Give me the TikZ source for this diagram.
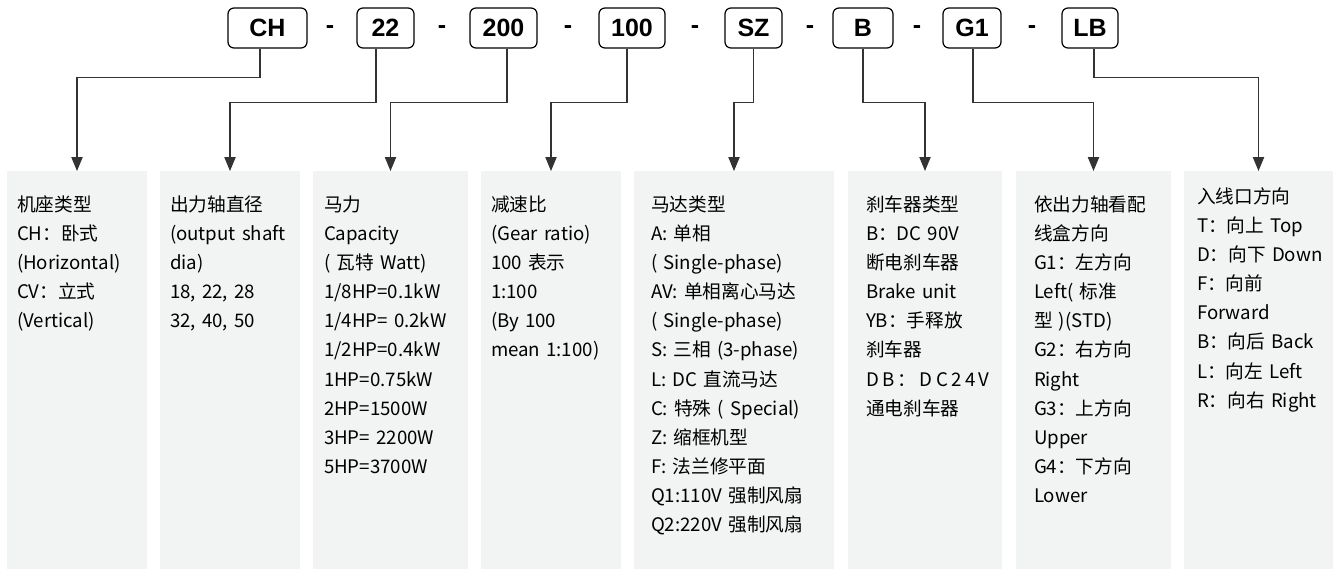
\documentclass[tikz,border=0pt]{standalone}
\usepackage{fontspec}
\setmainfont{Noto Sans CJK SC}
\newfontfamily\codefont{Liberation Sans}
\usetikzlibrary{arrows.meta}
\definecolor{boxgray}{RGB}{242,243,243}
\definecolor{linegray}{RGB}{51,51,51}

\begin{document}
\begin{tikzpicture}[
        x=0.75pt, y=-0.75pt,
        code/.style={draw, rounded corners=4.5pt, line width=0.9pt, minimum height=30pt, inner sep=0pt,
            font=\codefont\bfseries\fontsize{18.75}{20}\selectfont},
        sep/.style={inner sep=0pt, font=\codefont\bfseries\fontsize{18.75}{20}\selectfont},
        desc/.style={fill=boxgray, anchor=north, minimum height=298.5pt, inner sep=0pt},
        info/.style={anchor=base west, inner sep=0pt, text width=140pt, align=left,
            font=\fontsize{14}{21.8}\selectfont},
        link/.style={draw=linegray, line width=0.8pt, -{Triangle[width=8.5pt, length=10.5pt]}}
    ]
        \useasboundingbox (0,0) rectangle (1340,572);

        % code boxes
        \node[code, minimum width=59.25pt] (CH) at (267.5,28) {CH};
        \node[code, minimum width=42.75pt] (DIA) at (385.5,28) {22};
        \node[code, minimum width=50.25pt] (HP) at (503.5,28) {200};
        \node[code, minimum width=49.5pt] (RATIO) at (632,28) {100};
        \node[code, minimum width=42.75pt] (SZ) at (753.5,28) {SZ};
        \node[code, minimum width=45pt] (B) at (863,28) {B};
        \node[code, minimum width=43.5pt] (G1) at (972,28) {G1};
        \node[code, minimum width=42pt] (LB) at (1090,28) {LB};

        \node[sep] (dash1) at (330,30) {-};
        \node[sep] (dash2) at (442,30) {-};
        \node[sep] (dash3) at (568,30) {-};
        \node[sep] (dash4) at (695,30) {-};
        \node[sep] (dash5) at (810,30) {-};
        \node[sep] (dash6) at (917,30) {-};
        \node[sep] (dash7) at (1032,30) {-};

        % description boxes
        \node[desc, minimum width=105pt] (d1) at (77,171) {};
        \node[desc, minimum width=105pt] (d2) at (230,171) {};
        \node[desc, minimum width=116.25pt] (d3) at (390.5,171) {};
        \node[desc, minimum width=105pt] (d4) at (551,171) {};
        \node[desc, minimum width=150pt] (d5) at (734,171) {};
        \node[desc, minimum width=115.5pt] (d6) at (925,171) {};
        \node[desc, minimum width=116.25pt] (d7) at (1093.5,171) {};
        \node[desc, minimum width=111.75pt] (d8) at (1258.5,171) {};

        \node[info] (t1) at ([shift={(10,40.6)}]d1.north west)
            {机座类型\\CH：卧式\\(Horizontal)\\CV：立式\\(Vertical)};
        \node[info] (t2) at ([shift={(10,40.6)}]d2.north west)
            {出力轴直径\\(output shaft\\dia)\\18, 22, 28\\32, 40, 50};
        \node[info] (t3) at ([shift={(11,40.6)}]d3.north west)
            {马力\\Capacity\\( 瓦特 Watt)\\1/8HP=0.1kW\\1/4HP= 0.2kW\\1/2HP=0.4kW\\1HP=0.75kW\\2HP=1500W\\3HP= 2200W\\5HP=3700W};
        \node[info] (t4) at ([shift={(10,40.6)}]d4.north west)
            {减速比\\(Gear ratio)\\100 表示\\1:100\\(By 100\\mean 1:100)};
        \node[info] (t5) at ([shift={(17,40.6)}]d5.north west)
            {马达类型\\A: 单相\\( Single-phase)\\AV: 单相离心马达\\( Single-phase)\\S: 三相 (3-phase)\\L: DC 直流马达\\C: 特殊 ( Special)\\Z: 缩框机型\\F: 法兰修平面\\Q1:110V 强制风扇\\Q2:220V 强制风扇};
        \node[info] (t6) at ([shift={(18,40.6)}]d6.north west)
            {刹车器类型\\B：DC 90V\\断电刹车器\\Brake unit\\YB：手释放\\刹车器\\{\addfontfeature{LetterSpace=18}DB：DC24V}\\通电刹车器};
        \node[info] (t7) at ([shift={(18,40.6)}]d7.north west)
            {依出力轴看配\\线盒方向\\G1：左方向\\Left( 标准\\型 )(STD)\\G2：右方向\\Right\\G3：上方向\\Upper\\G4：下方向\\Lower};
        \node[info] (t8) at ([shift={(13,32.6)}]d8.north west)
            {入线口方向\\T：向上 Top\\D：向下 Down\\F：向前\\Forward\\B：向后 Back\\L：向左 Left\\R：向右 Right};

        % connectors
        \draw[link] (CH.south) ++(-7.5,0) -- ++(0,29) -| (d1.north);
        \draw[link] (DIA.south) ++(-9.5,0) -- ++(0,54) -| (d2.north);
        \draw[link] (HP.south) ++(3.5,0) -- ++(0,54) -| (d3.north);
        \draw[link] (RATIO.south) ++(-5,0) -- ++(0,54) -| (d4.north);
        \draw[link] (SZ.south) -- ++(0,54) -| (d5.north);
        \draw[link] (B.south) -- ++(0,54) -| (d6.north);
        \draw[link] (G1.south) ++(1,0) -- ++(0,54) -| (d7.north);
        \draw[link] (LB.south) ++(4,0) -- ++(0,29) -| (d8.north);
    \end{tikzpicture}
\end{document}
